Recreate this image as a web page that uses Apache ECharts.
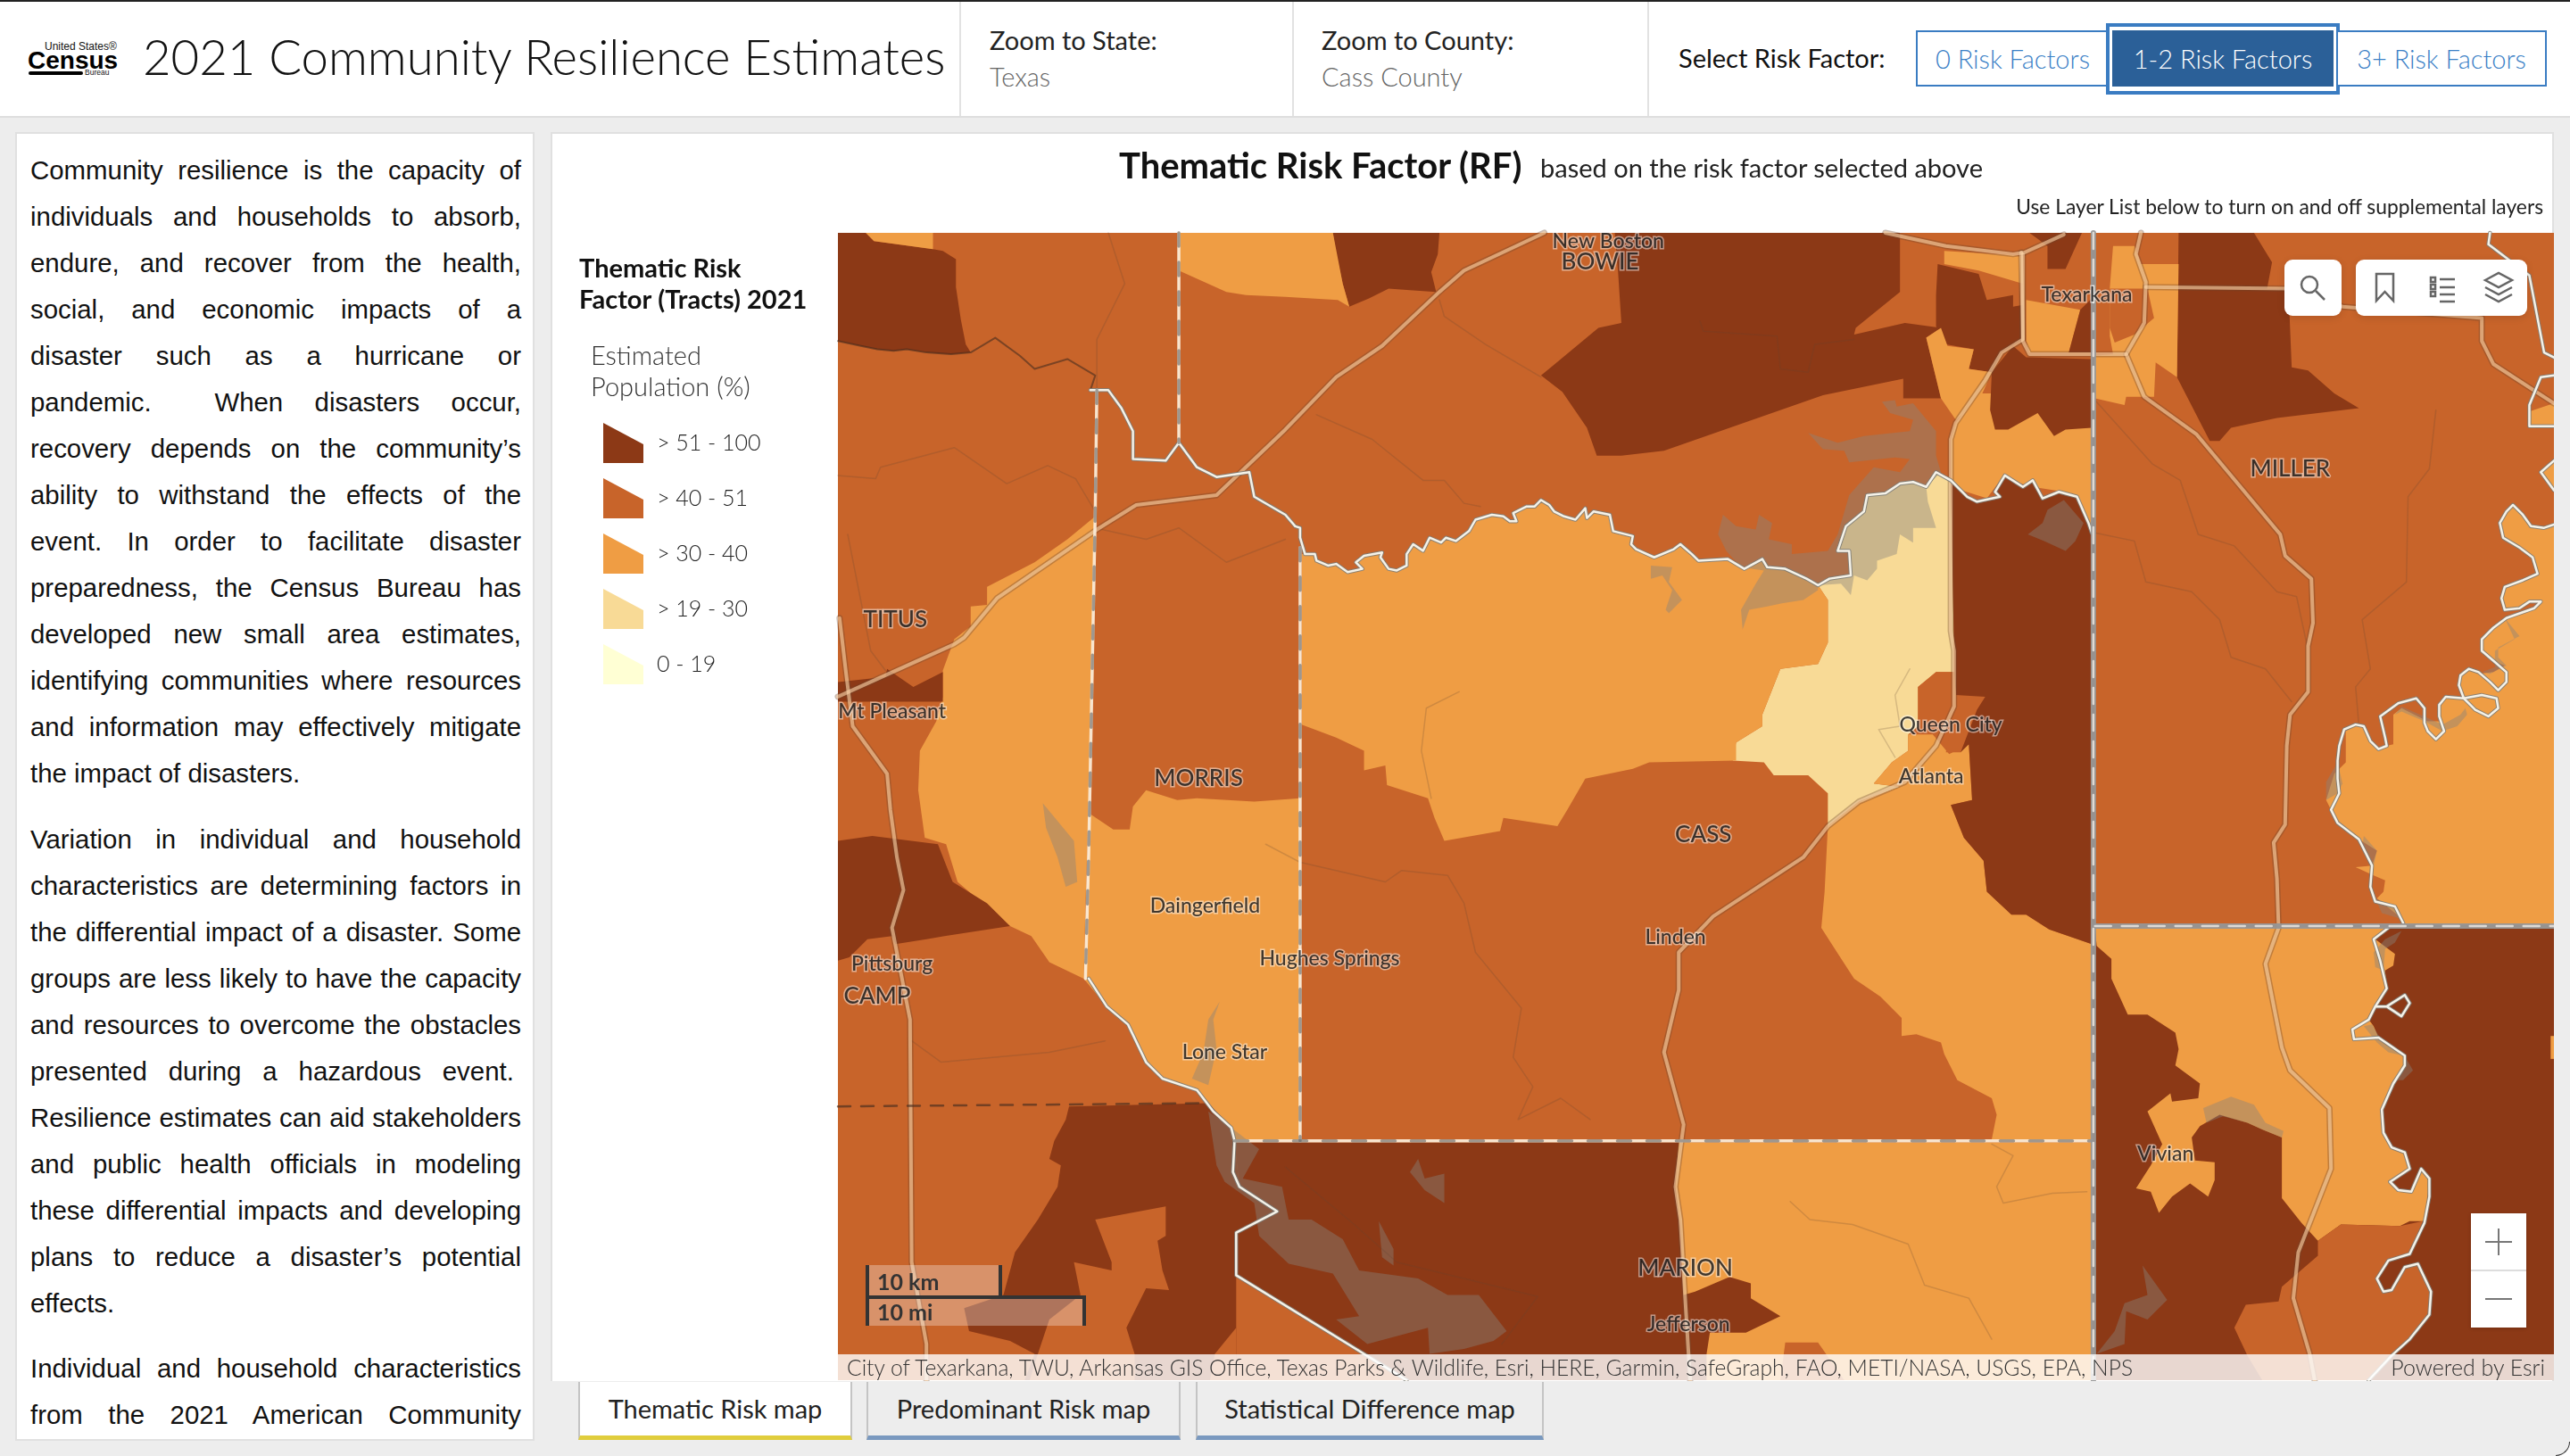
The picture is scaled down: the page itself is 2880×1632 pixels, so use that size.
<!DOCTYPE html>
<html>
<head>
<meta charset="utf-8">
<title>2021 Community Resilience Estimates</title>
<script src="https://cdn.jsdelivr.net/npm/echarts@6/dist/echarts.min.js"></script>
<style>
html, body { margin: 0; padding: 0; width: 2880px; height: 1632px; overflow: hidden; background: #ededed; }
body { font-family: Lato, "Noto Sans", sans-serif; color: #222; position: relative; }
.abs { position: absolute; white-space: nowrap; }
#head { position: absolute; left: 0; top: 0; width: 2880px; height: 128px; background: #fff; border-top: 2px solid #222; border-bottom: 2px solid #dedede; box-sizing: content-box; }
.sep { position: absolute; top: 2px; width: 2px; height: 128px; background: #e2e2e2; }
.btn { position: absolute; top: 34px; height: 63px; line-height: 59px; box-sizing: border-box; border: 2px solid #3a7cc2; color: #3a80c6; background: #fff; text-align: center; font-size: 29px; font-weight: 300; }
#textPanel { position: absolute; left: 17px; top: 148px; width: 582px; height: 1467px; box-sizing: border-box; background: #fff; border: 2px solid #e0e0e0; padding: 15px 13px 0 15px; overflow: hidden; font-family: "Liberation Sans", Arial, sans-serif; font-size: 29.4px; line-height: 52px; color: #111; text-align: justify; }
#textPanel p { margin: 0 0 21.5px 0; }
#mapPanel { position: absolute; left: 617px; top: 148px; width: 2245px; height: 1400px; box-sizing: border-box; background: #fff; border: 2px solid #e0e0e0; border-bottom: 0; }
#chart { position: absolute; left: 619px; top: 152px; width: 2243px; height: 1396px; }
.tool { position: absolute; background: #fff; border-radius: 9px; top: 291px; height: 63px; box-shadow: 0 2px 8px rgba(0,0,0,.12); }
.tab { position: absolute; top: 1549px; height: 65px; line-height: 60px; box-sizing: border-box; border-left: 2px solid #c4c4c4; border-right: 2px solid #c4c4c4; border-bottom: 5px solid #7a99bf; text-align: center; font-size: 29px; font-weight: 400; color: #222; background: #ededed; }
</style>
</head>
<body>
<div id="head"></div>
<div class="sep" style="left:1075px"></div>
<div class="sep" style="left:1448px"></div>
<div class="sep" style="left:1846px"></div>

<div class="abs" style="left:50px;top:46px;font:12px/13px 'Liberation Sans';color:#111">United States&reg;</div>
<div class="abs" style="left:31px;top:53px;font:bold 28px/30px 'Liberation Sans';color:#000">Census</div>
<div class="abs" style="left:32px;top:80px;width:61px;height:4px;background:#000;border-radius:2px"></div>
<div class="abs" style="left:95px;top:77px;font:8.5px/9px 'Liberation Sans';color:#111">Bureau</div>

<div class="abs" style="left:160px;top:30px;font-size:54.500px;line-height:66px;font-weight:300;color:#111">2021 Community Resilience Estimates</div>
<div class="abs" style="left:1109px;top:27px;font-size:29px;line-height:36px;color:#222">Zoom to State:</div>
<div class="abs" style="left:1109px;top:68px;font-size:29px;line-height:36px;font-weight:300;color:#666">Texas</div>
<div class="abs" style="left:1481px;top:27px;font-size:29px;line-height:36px;color:#222">Zoom to County:</div>
<div class="abs" style="left:1481px;top:68px;font-size:29px;line-height:36px;font-weight:300;color:#666">Cass County</div>
<div class="abs" style="left:1881px;top:47px;font-size:29px;line-height:36px;color:#111">Select Risk Factor:</div>
<div class="btn" style="left:2147px;width:217px">0 Risk Factors</div>
<div class="abs" style="left:2360px;top:26px;width:262px;height:80px;box-sizing:border-box;border:4px solid #3a7cc2;background:#fff"></div>
<div class="btn" style="left:2367px;width:248px;background:#2b6098;border-color:#2b6098;color:#fff">1-2 Risk Factors</div>
<div class="btn" style="left:2618px;width:236px">3+ Risk Factors</div>

<div id="textPanel">
<p>Community resilience is the capacity of individuals and households to absorb, endure, and recover from the health, social, and economic impacts of a disaster such as a hurricane or pandemic.&nbsp;&nbsp;When disasters occur, recovery depends on the community&rsquo;s ability to withstand the effects of the event. In order to facilitate disaster preparedness, the Census Bureau has developed new small area estimates, identifying communities where resources and information may effectively mitigate the impact of disasters.</p>
<p>Variation in individual and household characteristics are determining factors in the differential impact of a disaster. Some groups are less likely to have the capacity and resources to overcome the obstacles presented during a hazardous event.&nbsp; Resilience estimates can aid stakeholders and public health officials in modeling these differential impacts and developing plans to reduce a disaster&rsquo;s potential effects.</p>
<p>Individual and household characteristics from the 2021 American Community Survey are used to estimate the risk factors.</p>
</div>

<div id="mapPanel"></div>
<div id="chart"></div>

<div class="abs" style="left:1254px;top:160px;font-size:40px;line-height:50px;font-weight:700;color:#111">Thematic Risk Factor (RF)</div>
<div class="abs" style="left:1726px;top:168px;font-size:29px;line-height:40px;font-weight:400;color:#222">based on the risk factor selected above</div>
<div class="abs" style="right:30px;top:217px;font-size:22.800px;line-height:28px;color:#222">Use Layer List below to turn on and off supplemental layers</div>

<!-- map widgets -->
<div class="tool" style="left:2560px;width:64px">
	<svg width="64" height="63" viewBox="0 0 64 63" fill="none" stroke="#666" stroke-width="2.5"><circle cx="28" cy="28" r="9"/><path d="M35 35L45 45"/></svg>
</div>
<div class="tool" style="left:2640px;width:192px">
	<svg width="192" height="63" viewBox="0 0 192 63" fill="none" stroke="#666" stroke-width="2.5">
		<path d="M23 16H42V46L32.500 36L23 46Z"/>
		<path d="M84 20H89V25H84ZM84 28H89V33H84ZM84 36H89V41H84ZM94 22H111M94 31H111M94 39H111M94 47H111"/>
		<path d="M145 23L160 15L175 23L160 31ZM145 31L160 39L175 31M145 39L160 47L175 39"/>
	</svg>
</div>
<div class="abs" style="left:2769px;top:1360px;width:62px;height:128px;background:#fff;box-shadow:0 1px 4px rgba(0,0,0,.2)">
	<svg width="62" height="128" viewBox="0 0 62 128" fill="none" stroke="#777" stroke-width="2"><path d="M16 32H46M31 17V47M16 96H46"/><path d="M0 64H62" stroke="#ddd"/></svg>
</div>

<!-- scale bar -->
<div class="abs" style="left:970px;top:1418px;width:153px;height:34px;background:rgba(255,255,255,.3);box-sizing:border-box;border-left:4px solid #333;border-right:4px solid #333"></div>
<div class="abs" style="left:970px;top:1452px;width:247px;height:34px;background:rgba(255,255,255,.3);box-sizing:border-box;border-left:4px solid #333;border-right:4px solid #333;border-top:4px solid #333"></div>
<div class="abs" style="left:983px;top:1421px;font-size:25px;line-height:30px;font-weight:700;color:#333">10 km</div>
<div class="abs" style="left:983px;top:1455px;font-size:25px;line-height:30px;font-weight:700;color:#333">10 mi</div>

<!-- attribution -->
<div class="abs" style="left:939px;top:1518px;width:1923px;height:29px;background:rgba(255,255,255,.8)"></div>
<div class="abs" style="left:949px;top:1518px;font-size:24.600px;line-height:29px;font-weight:300;color:#333">City of Texarkana, TWU, Arkansas GIS Office, Texas Parks &amp; Wildlife, Esri, HERE, Garmin, SafeGraph, FAO, METI/NASA, USGS, EPA, NPS</div>
<div class="abs" style="right:28px;top:1518px;font-size:25px;line-height:29px;font-weight:300;color:#333">Powered by Esri</div>

<!-- tabs -->
<div class="tab" style="left:648px;width:307px;background:#fff;border-bottom-color:#e0cd3d">Thematic Risk map</div>
<div class="tab" style="left:971px;width:352px">Predominant Risk map</div>
<div class="tab" style="left:1340px;width:390px">Statistical Difference map</div>

<!-- window corner -->
<div class="abs" style="right:0;bottom:0;width:16px;height:16px;background:#fff"></div>
<div class="abs" style="right:0;bottom:0;width:16px;height:16px;box-sizing:border-box;background:#ededed;border-right:1px solid #333;border-bottom:1px solid #333;border-bottom-right-radius:16px"></div>

<script>
// map frame, in the units all the coordinates below are read in
var mapBounds = [[511, 142], [1558, 842]];

var legendTitle = 'Thematic Risk\nFactor (Tracts) 2021';
var legendSubtitle = 'Estimated\nPopulation (%)';
var legendLabels = ['0 - 19', '> 19 - 30', '> 30 - 40', '> 40 - 51', '> 51 - 100'];
var legendBreaks = [0, 19, 30, 40, 51, 100];
var legendColors = ['#ffffd4', '#f8da96', '#ef9d44', '#c8642a', '#8c3916'];

// census tracts, later ones paint over earlier ones
var tractValues = [45, 55, 35, 55, 55, 35, 55, 35, 35, 55, 35, 35, 55, 55, 55, 35, 45, 25, 35, 35, 35, 35, 55, 45, 55, 55, 55, 45, 45, 55, 35, 45, 55, 35, 45, 35, 35, 35, 35];
var tractRings = [
	[[511,142],[1558,142],[1558,842],[511,842]],
	[[511,142],[528,142],[533,147],[555,150],[569,152],[575,153],[583,158],[583,175],[586,195],[589,210],[592,215],[580,216],[565,215],[553,213],[545,214],[535,213],[525,211],[511,208]],
	[[528,142],[569,142],[569,152],[555,150],[533,147]],
	[[813,142],[878,142],[877,155],[873,166],[876,178],[860,177],[847,176],[835,182],[823,187],[819,173],[815,155]],
	[[985,142],[1159,142],[1159,178],[1132,200],[1131,204],[1162,197],[1184,200],[1175,206],[1184,243],[1161,243],[1161,231],[1112,241],[1015,275],[989,278],[974,278],[968,261],[953,239],[940,229],[946,224],[975,200],[989,197],[987,166]],
	[[719,142],[813,142],[819,173],[823,187],[816,183],[784,181],[760,180],[748,178],[719,165]],
	[[1182,161],[1207,167],[1212,183],[1228,180],[1228,187],[1234,186],[1234,207],[1221,215],[1215,227],[1201,225],[1204,213],[1187,210],[1181,199],[1181,180]],
	[[1175,206],[1184,200],[1188,211],[1204,213],[1201,225],[1215,227],[1207,245],[1193,256],[1184,243]],
	[[1207,240],[1276,240],[1276,325],[1259,300],[1240,297],[1221,292],[1212,304],[1190,297],[1190,268],[1193,258]],
	[[1228,211],[1236,218],[1276,219],[1276,261],[1260,262],[1253,266],[1243,252],[1225,262],[1217,262],[1214,250],[1215,227]],
	[[1186,153],[1234,156],[1234,173],[1207,165],[1186,161]],
	[[1236,183],[1269,189],[1262,215],[1238,215],[1236,208]],
	[[1238,142],[1270,142],[1260,164],[1249,164],[1249,150]],
	[[1269,189],[1276,182],[1276,215],[1262,215]],
	[[1329,142],[1375,142],[1386,160],[1383,176],[1396,176],[1398,224],[1408,226],[1424,240],[1439,249],[1389,255],[1361,261],[1354,269],[1348,269],[1328,230]],
	[[1289,150],[1302,150],[1306,161],[1329,161],[1328,230],[1315,221],[1314,242],[1297,242],[1296,247],[1278,243],[1278,217],[1289,216],[1287,205],[1287,176]],
	[[1287,176],[1310,176],[1314,194],[1302,204],[1290,209],[1287,200]],
	[[1190,292],[1181,288],[1175,297],[1167,294],[1159,295],[1150,301],[1139,302],[1137,312],[1126,321],[1121,336],[1128,336],[1129,351],[1116,353],[1109,357],[1115,366],[1115,392],[1109,405],[1086,408],[1075,436],[1075,443],[1059,453],[1057,464],[1076,465],[1082,473],[1103,473],[1115,484],[1115,504],[1134,489],[1159,480],[1143,478],[1154,465],[1164,458],[1164,448],[1170,443],[1170,419],[1181,410],[1192,410],[1192,397]],
	[[794,338],[794,442],[815,450],[832,458],[832,470],[845,467],[846,479],[871,487],[875,499],[881,513],[915,507],[917,499],[950,504],[956,494],[967,475],[996,469],[1006,465],[1059,464],[1059,453],[1075,443],[1075,436],[1086,408],[1109,405],[1115,392],[1115,366],[1109,357],[1102,353],[1089,347],[1078,346],[1075,341],[1064,347],[1054,341],[1036,342],[1032,338],[1025,332],[1021,335],[1009,340],[998,335],[995,332],[996,327],[984,324],[982,314],[972,312],[968,316],[967,310],[961,317],[954,315],[948,312],[945,308],[940,305],[936,309],[931,309],[923,313],[925,318],[921,318],[917,315],[910,314],[900,317],[896,324],[888,330],[882,328],[879,331],[872,328],[868,336],[862,332],[858,338],[858,345],[852,348],[847,347],[842,340],[843,337],[832,339],[827,343],[831,347],[822,349],[815,344],[810,345],[803,342],[802,338]],
	[[1164,448],[1179,448],[1189,460],[1201,454],[1203,488],[1190,491],[1198,511],[1210,525],[1212,544],[1227,558],[1236,558],[1250,567],[1276,576],[1276,696],[1215,695],[1218,680],[1215,670],[1194,659],[1186,643],[1184,636],[1169,631],[1160,632],[1160,621],[1147,608],[1131,597],[1120,580],[1111,566],[1113,544],[1115,504],[1134,489],[1159,480],[1143,478],[1154,465],[1164,458]],
	[[668,315],[651,329],[631,343],[602,358],[602,369],[592,370],[592,382],[582,390],[575,409],[575,425],[571,440],[561,458],[560,482],[564,511],[577,515],[584,538],[605,556],[616,565],[629,571],[640,587],[661,597],[662,553],[664,490]],
	[[664,496],[679,506],[689,506],[691,492],[699,482],[718,488],[730,487],[765,489],[793,487],[793,696],[753,696],[751,688],[740,678],[730,665],[709,658],[699,648],[688,625],[675,614],[661,597]],
	[[1190,293],[1200,303],[1206,306],[1220,303],[1217,300],[1223,290],[1234,297],[1240,293],[1246,304],[1256,300],[1267,303],[1276,325],[1276,576],[1250,567],[1236,558],[1227,558],[1212,544],[1210,525],[1198,511],[1190,491],[1203,488],[1201,454],[1196,459],[1192,410],[1192,397]],
	[[1170,419],[1181,410],[1192,410],[1193,424],[1211,425],[1206,433],[1196,459],[1187,459],[1190,444],[1170,443]],
	[[511,513],[532,510],[572,515],[581,538],[602,551],[616,565],[576,571],[565,573],[546,576],[544,571],[529,573],[518,584],[511,586]],
	[[511,416],[540,413],[541,408],[557,419],[575,410],[575,428],[511,428]],
	[[652,675],[737,673],[751,688],[753,697],[756,724],[779,739],[754,752],[754,842],[625,842],[631,826],[616,818],[591,812],[588,798],[612,790],[619,764],[633,744],[645,724],[647,711],[640,707],[643,696],[650,683]],
	[[668,744],[711,736],[711,754],[706,757],[709,775],[713,787],[699,786],[687,810],[692,826],[692,842],[628,842],[633,826],[640,805],[659,790],[655,770],[678,775],[678,770]],
	[[754,810],[741,826],[738,842],[754,842]],
	[[753,697],[1100,697],[1100,842],[858,842],[754,778],[754,752],[779,739],[756,724]],
	[[1024,697],[1276,697],[1276,842],[1041,842],[1041,826],[1043,813],[1065,813],[1086,803],[1068,792],[1068,783],[1055,779],[1034,788],[1027,790],[1025,749],[1022,724]],
	[[1086,842],[1089,819],[1109,819],[1125,842]],
	[[1278,566],[1558,566],[1558,842],[1278,842]],
	[[1278,566],[1457,566],[1449,573],[1461,582],[1460,589],[1455,592],[1456,603],[1450,614],[1445,622],[1448,626],[1451,633],[1467,644],[1467,650],[1460,661],[1453,677],[1454,691],[1459,700],[1467,703],[1470,713],[1458,721],[1463,726],[1471,727],[1477,713],[1482,719],[1481,730],[1479,745],[1470,745],[1464,748],[1428,747],[1414,757],[1404,746],[1392,731],[1392,694],[1380,689],[1371,685],[1354,680],[1342,687],[1337,694],[1339,708],[1351,709],[1351,720],[1347,730],[1336,722],[1325,730],[1317,740],[1312,727],[1303,725],[1312,711],[1319,698],[1310,678],[1324,667],[1325,672],[1341,670],[1342,661],[1327,650],[1329,640],[1327,630],[1310,619],[1298,619],[1288,597],[1288,585],[1279,577]],
	[[1414,757],[1428,747],[1464,748],[1478,745],[1470,765],[1457,769],[1450,780],[1454,788],[1459,787],[1467,773],[1475,771],[1483,788],[1482,802],[1470,817],[1459,827],[1445,842],[1380,842],[1371,827],[1363,810],[1370,796],[1390,794],[1392,785],[1414,766]],
	[[1558,320],[1552,322],[1544,321],[1539,314],[1533,308],[1529,312],[1525,319],[1527,328],[1537,334],[1545,340],[1548,350],[1539,354],[1528,358],[1526,365],[1528,372],[1537,371],[1543,367],[1550,367],[1546,371],[1529,377],[1521,383],[1514,390],[1514,397],[1520,403],[1528,406],[1521,410],[1512,411],[1506,408],[1501,412],[1500,418],[1503,426],[1492,425],[1488,430],[1489,440],[1481,440],[1465,432],[1460,436],[1460,454],[1456,455],[1451,457],[1446,452],[1442,443],[1437,442],[1431,446],[1431,465],[1424,472],[1419,488],[1422,494],[1426,502],[1439,512],[1450,519],[1447,528],[1437,529],[1448,534],[1455,537],[1454,544],[1450,548],[1466,561],[1466,564],[1558,564]],
	[[1558,246],[1543,251],[1544,261],[1558,260]],
	[[1558,281],[1550,288],[1558,299]],
	[[1556,632],[1558,632],[1558,646],[1556,646]]
];
var tractNames = tractRings.map(function(r, i) { return 'tract' + i; });

var lakeRings = [
	[[1148,245],[1156,244],[1157,248],[1167,246],[1181,263],[1181,278],[1184,288],[1175,297],[1176,306],[1181,322],[1167,322],[1167,331],[1159,326],[1157,338],[1145,342],[1145,347],[1139,354],[1131,351],[1129,363],[1123,356],[1109,357],[1109,360],[1100,366],[1087,368],[1078,370],[1067,372],[1063,384],[1062,372],[1071,356],[1076,348],[1062,346],[1053,336],[1048,326],[1051,314],[1059,321],[1071,323],[1073,314],[1081,319],[1079,329],[1093,332],[1093,338],[1115,336],[1121,326],[1128,302],[1143,285],[1159,288],[1165,280],[1156,279],[1128,282],[1125,275],[1112,274],[1103,264],[1121,270],[1137,266],[1165,263],[1167,256],[1153,252]],
	[[1007,345],[1020,346],[1018,355],[1026,366],[1018,374],[1016,372],[1020,360],[1014,351],[1007,353]],
	[[636,490],[655,513],[657,538],[650,541],[645,523],[638,505]],
	[[744,611],[740,622],[742,640],[737,662],[727,658],[734,642],[737,622]],
	[[737,678],[751,688],[768,701],[758,719],[782,724],[786,744],[800,744],[819,756],[829,775],[865,780],[883,790],[902,790],[919,812],[911,818],[893,823],[872,826],[871,810],[834,820],[815,805],[829,803],[813,777],[786,771],[768,754],[765,734],[747,721],[742,711]],
	[[865,707],[869,719],[881,716],[881,734],[869,726],[860,715]],
	[[841,745],[850,762],[850,772],[843,767]],
	[[1259,305],[1271,319],[1266,330],[1260,336],[1247,330],[1237,326],[1246,319],[1249,311]],
	[[1344,676],[1361,669],[1375,674],[1382,685],[1393,690],[1392,694],[1380,689],[1371,685],[1356,681],[1346,685]],
	[[1307,772],[1322,793],[1310,805],[1297,800],[1296,820],[1279,826],[1290,812],[1296,795],[1310,790]],
	[[1465,431],[1481,438],[1490,442],[1501,436],[1504,432],[1505,436],[1499,443],[1490,446],[1479,440],[1465,434],[1461,436]],
	[[1528,377],[1537,388],[1524,395],[1524,401],[1529,406],[1519,411],[1514,410],[1522,407],[1522,397],[1534,390]],
	[[1426,465],[1419,477],[1419,488],[1426,484],[1429,478]],
	[[1442,510],[1450,519],[1448,528],[1441,517]],
	[[1449,548],[1461,553],[1463,560],[1453,557]],
	[[1442,626],[1447,625],[1453,635],[1468,646],[1472,653],[1466,659],[1461,659],[1467,650],[1466,644],[1457,642],[1450,636]],
	[[1448,581],[1455,573],[1465,568],[1461,575],[1455,579],[1454,592],[1449,590]]
];

var roads = [
	[[511,425],[582,393],[588,389],[608,365],[669,323],[693,308],[742,302],[784,262],[815,230],[843,211],[878,178],[893,165],[942,142]],
	[[1150,142],[1187,150],[1228,155],[1235,154],[1259,143]],
	[[1234,155],[1234,207],[1221,215],[1211,232],[1193,258],[1190,268],[1190,385],[1192,397],[1192,431],[1181,455],[1162,477],[1134,489],[1115,504],[1100,523],[1045,559],[1024,581],[1024,604],[1015,642],[1027,686],[1022,724],[1025,744],[1030,826],[1031,842]],
	[[1233,154],[1234,208],[1238,216],[1297,216],[1308,197],[1309,172],[1303,155],[1306,142]],
	[[1297,216],[1308,242],[1340,265],[1391,326],[1394,339],[1410,353],[1411,380],[1408,394],[1408,422],[1397,436],[1395,455],[1394,503],[1387,514],[1389,536],[1390,566],[1382,588],[1392,639],[1397,653],[1421,676],[1422,713],[1402,764],[1399,792],[1409,826],[1412,842]],
	[[1309,175],[1396,176],[1429,187],[1514,194],[1514,208],[1521,222],[1558,246]],
	[[512,377],[516,411],[520,443],[541,472],[543,494],[547,523],[551,543],[544,566],[555,622],[556,770],[565,820],[565,842]]
];
var rivers = [
	[[665,238],[676,238],[684,249],[691,263],[691,280],[711,281],[719,270],[730,285],[742,291],[762,288],[765,303],[784,314],[790,321],[793,322],[793,328],[796,338],[802,338],[803,342],[810,345],[815,344],[822,349],[831,347],[827,343],[832,339],[843,337],[842,340],[847,347],[852,348],[858,345],[858,338],[862,332],[868,336],[872,328],[879,331],[882,328],[888,330],[896,324],[900,317],[910,314],[917,315],[921,318],[925,318],[923,313],[931,309],[936,309],[940,305],[945,308],[948,312],[954,315],[961,317],[967,310],[968,316],[972,312],[982,314],[984,324],[996,327],[995,332],[998,335],[1009,340],[1021,335],[1025,332],[1032,338],[1036,342],[1054,341],[1064,347],[1075,341],[1078,346],[1089,347],[1102,353],[1109,357],[1116,353],[1129,351],[1128,336],[1121,336],[1126,321],[1137,312],[1139,302],[1150,301],[1159,295],[1167,294],[1175,297],[1181,288],[1190,293],[1200,303],[1206,306],[1220,303],[1217,300],[1223,290],[1234,297],[1240,293],[1246,304],[1256,300],[1267,303],[1274,319],[1276,325]],
	[[664,597],[675,614],[688,625],[699,648],[709,658],[730,665],[740,678],[751,688],[753,696],[752,715],[756,724],[779,739],[754,752],[754,778],[858,842]],
	[[1558,320],[1552,322],[1544,321],[1539,314],[1533,308],[1529,312],[1525,319],[1527,328],[1537,334],[1545,340],[1548,350],[1539,354],[1528,358],[1526,365],[1528,372],[1537,371],[1543,367],[1550,367],[1546,371],[1529,377],[1521,383],[1514,390],[1514,397],[1521,403],[1529,410],[1529,416],[1524,421],[1519,416],[1512,410],[1506,408],[1501,412],[1500,418],[1503,426],[1510,433],[1518,437],[1524,432],[1523,426],[1514,424],[1503,426],[1492,425],[1488,430],[1488,437],[1491,446],[1486,451],[1481,446],[1479,441],[1479,432],[1474,426],[1463,429],[1452,437],[1455,450],[1456,455],[1451,457],[1446,452],[1442,443],[1437,442],[1430,445],[1427,455],[1426,464],[1426,475],[1427,484],[1422,494],[1426,502],[1439,512],[1447,528],[1446,541],[1449,550],[1461,553],[1466,563]],
	[[1457,566],[1448,573],[1452,586],[1456,603],[1449,614],[1456,614],[1467,607],[1470,612],[1465,620],[1456,614],[1449,614],[1445,622],[1435,628],[1436,634],[1451,633],[1467,644],[1467,650],[1460,661],[1453,677],[1454,691],[1459,700],[1467,703],[1470,713],[1458,721],[1463,726],[1471,727],[1477,713],[1482,719],[1482,730],[1479,746],[1470,765],[1457,769],[1450,780],[1454,788],[1459,787],[1467,773],[1475,771],[1483,788],[1482,802],[1470,817],[1459,827],[1445,842]],
	[[1519,142],[1518,149],[1543,168],[1552,215],[1558,218]],
	[[1558,229],[1550,230],[1543,247],[1543,260],[1558,260]],
	[[1558,281],[1550,288],[1558,299]]
];
var darkRiver = [[511,208],[525,211],[535,213],[545,214],[553,213],[565,215],[580,216],[592,215],[607,206],[622,217],[631,225],[651,219],[668,229],[665,238]];
var countyLines = [
	[[719,142],[719,270]],
	[[669,238],[668,312],[664,521],[662,597]],
	[[793,334],[793,696]],
	[[753,696],[1276,696]]
];
var stateLines = [
	[[1277,142],[1277,842]],
	[[1278,565],[1558,565]]
];
var campLine = [[[511,675],[737,673]]];
var tractLines = [
	[[511,290],[534,292],[537,285],[582,273],[614,295],[639,284],[656,292],[668,312]],
	[[803,253],[837,268],[868,293],[881,293],[893,307],[903,309]],
	[[878,183],[881,193],[906,210],[918,217],[940,230]],
	[[1037,196],[1039,202],[1084,205],[1086,225],[1103,227],[1107,210],[1131,207]],
	[[676,142],[686,173],[669,207],[669,238]],
	[[517,326],[531,397],[540,409]],
	[[668,322],[699,329],[719,322],[748,343],[784,329]],
	[[1278,244],[1313,283],[1330,293],[1341,326],[1363,333],[1389,361],[1401,364],[1407,392]],
	[[1278,325],[1302,330],[1309,355],[1337,361],[1354,378],[1361,401],[1382,408],[1398,428]],
	[[1486,250],[1482,286],[1469,303],[1468,355],[1441,378],[1446,408],[1437,419],[1439,443]],
	[[1215,698],[1228,705],[1218,724],[1222,734],[1252,728],[1273,727]],
	[[1092,733],[1104,744],[1130,747],[1164,759],[1174,784],[1201,792],[1215,817]],
	[[772,515],[793,526],[845,538],[855,531],[883,534],[893,551],[900,581],[928,615],[923,645],[935,663],[926,683],[952,670],[970,683]],
	[[556,635],[574,648],[640,642],[674,635]],
	[[784,712],[826,747],[852,770],[938,791],[916,820]],
	[[1165,408],[1156,424],[1159,443],[1146,445],[1156,462]],
	[[890,422],[870,432],[867,458],[873,487]]
];

var placeNames = ['New Boston', 'BOWIE', 'Texarkana', 'MILLER', 'TITUS', 'Mt Pleasant', 'MORRIS', 'CASS', 'Queen City', 'Atlanta', 'Daingerfield', 'Hughes Springs', 'Linden', 'Pittsburg', 'CAMP', 'Lone Star', 'Vivian', 'MARION', 'Jefferson'];
var placeCoords = [[981,147],[976,160],[1273,180],[1397,286],[546,378],[544,434],[731,475],[1039,509],[1190,442],[1178,474],[735,553],[811,585],[1022,572],[544,588],[535,608],[747,642],[1321,704],[1028,774],[1030,808]];

function toGeoJson(names, rings) {
	return {
		type: 'FeatureCollection',
		features: rings.map(function(ring, i) {
			return {
				type: 'Feature',
				properties: { name: names[i] },
				geometry: { type: 'Polygon', coordinates: [ring.concat([ring[0]])] }
			};
		})
	};
}

function linesSeries(paths, color, width, dash, z) {
	return {
		type: 'lines',
		coordinateSystem: 'geo',
		geoIndex: 0,
		polyline: true,
		silent: true,
		z: z,
		lineStyle: { color: color, width: width, type: dash || 'solid', opacity: 1, cap: 'round', join: 'round' },
		data: paths.map(function(p) { return { coords: p }; })
	};
}

echarts.registerMap('tracts', toGeoJson(tractNames, tractRings));
echarts.registerMap('lakes', toGeoJson(lakeRings.map(function(r, i) { return 'lake' + i; }), lakeRings));

var flatProjection = {
	project: function(p) { return p; },
	unproject: function(p) { return p; }
};

function mapGeo(name, areaColor, z) {
	return {
		map: name,
		projection: flatProjection,
		boundingCoords: mapBounds,
		left: 320,
		top: 109,
		width: 1923,
		height: 1286,
		roam: false,
		silent: true,
		z: z,
		label: { show: false },
		emphasis: { disabled: true },
		select: { disabled: true },
		itemStyle: { areaColor: areaColor, borderWidth: 0 }
	};
}

var pieces = legendLabels.map(function(label, i) {
	return { min: legendBreaks[i], max: legendBreaks[i + 1], label: label, color: legendColors[i] };
});

var myChart = echarts.init(document.getElementById('chart'));
var option = {
	animation: false,
	title: [{
		text: legendTitle,
		left: 25,
		top: 127,
		textStyle: { fontFamily: 'Lato', fontSize: 29, lineHeight: 35, fontWeight: 700, color: '#111' }
	}, {
		text: legendSubtitle,
		left: 38,
		top: 225,
		textStyle: { fontFamily: 'Lato', fontSize: 29, lineHeight: 35, fontWeight: 300, color: '#333' }
	}],
	visualMap: {
		type: 'piecewise',
		seriesIndex: 0,
		left: 57,
		top: 322,
		orient: 'vertical',
		itemWidth: 45,
		itemHeight: 45,
		itemGap: 17,
		itemSymbol: 'path://M0 0L45 24L45 45L0 45Z',
		selectedMode: false,
		hoverLink: false,
		padding: 0,
		textGap: 15,
		textStyle: { fontFamily: 'Lato', fontSize: 25, fontWeight: 300, color: '#222' },
		pieces: pieces
	},
	geo: [mapGeo('tracts', '#c8642a', 1), mapGeo('lakes', 'rgba(135,130,125,.42)', 2)],
	series: [{
		type: 'map',
		geoIndex: 0,
		silent: true,
		data: tractNames.map(function(n, i) { return { name: n, value: tractValues[i] }; })
	},
	linesSeries(tractLines, 'rgba(95,70,50,.22)', 1.500, null, 3),
	linesSeries(roads, 'rgba(110,70,45,.36)', 7, null, 4),
	linesSeries(roads, 'rgba(255,215,170,.6)', 4, null, 5),
	linesSeries([darkRiver], 'rgba(60,40,30,.55)', 2, null, 6),
	linesSeries(rivers, 'rgba(125,125,120,.85)', 4.500, null, 6),
	linesSeries(rivers, 'rgba(245,242,232,1)', 2.500, null, 7),
	linesSeries(countyLines, 'rgba(250,235,215,.95)', 3.500, null, 6),
	linesSeries(countyLines, 'rgba(100,100,100,.6)', 3.500, [15, 18], 7),
	linesSeries(stateLines, 'rgba(150,150,150,.95)', 6, null, 8),
	linesSeries(stateLines, 'rgba(235,230,225,.85)', 2.500, [18, 12], 9),
	linesSeries(campLine, 'rgba(70,45,30,.65)', 2.500, [14, 12], 6),
	{
		type: 'scatter',
		coordinateSystem: 'geo',
		geoIndex: 0,
		symbolSize: 0,
		silent: true,
		z: 10,
		label: {
			show: true,
			position: 'inside',
			formatter: '{b}',
			fontFamily: 'Lato',
			fontSize: 23,
			fontWeight: 500,
			color: '#111',
			textBorderColor: 'rgba(255,255,255,.6)',
			textBorderWidth: 3
		},
		data: placeNames.map(function(n, i) {
			var caps = n === n.toUpperCase();
			return { name: n, value: placeCoords[i], label: { fontSize: caps ? 26 : 23 } };
		})
	}]
};
myChart.setOption(option);
</script>
</body>
</html>
